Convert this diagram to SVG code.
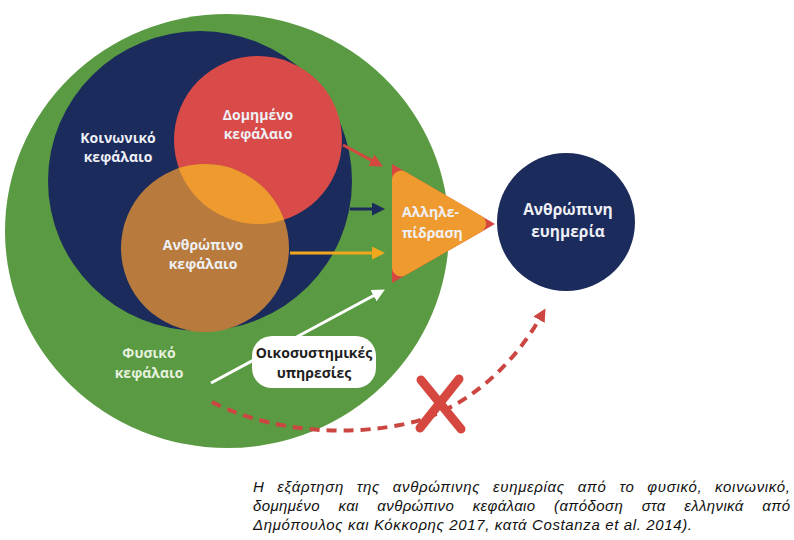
<svg xmlns="http://www.w3.org/2000/svg" width="794" height="540" viewBox="0 0 794 540">
  <style>
    .lbl { font-family: "Open Sans", "Liberation Sans", sans-serif; font-weight: bold; font-size: 14px; text-anchor: middle; }
    .light { fill: #EEF0F6; }
    .pale { fill: #E6F1DF; }
    .dark { fill: #1E1E1E; }
    .cap { font-family: "Liberation Sans", Arial, sans-serif; font-style: italic; font-size: 15px; fill: #111; }
  </style>
  <defs>
    <marker id="ah-red" markerUnits="userSpaceOnUse" markerWidth="13" markerHeight="13" refX="2" refY="6.5" orient="auto">
      <path d="M0,0 L13,6.5 L0,13 z" fill="#D5473F"/>
    </marker>
    <marker id="ah-navy" markerUnits="userSpaceOnUse" markerWidth="13" markerHeight="13" refX="2" refY="6.5" orient="auto">
      <path d="M0,0 L13,6.5 L0,13 z" fill="#1B2B5C"/>
    </marker>
    <marker id="ah-gold" markerUnits="userSpaceOnUse" markerWidth="13" markerHeight="13" refX="2" refY="6.5" orient="auto">
      <path d="M0,0 L13,6.5 L0,13 z" fill="#F2A81D"/>
    </marker>
    <marker id="ah-white" markerUnits="userSpaceOnUse" markerWidth="13" markerHeight="13" refX="2" refY="6.5" orient="auto">
      <path d="M0,0 L13,6.5 L0,13 z" fill="#FFFFFF"/>
    </marker>
    <marker id="ah-dash" markerUnits="userSpaceOnUse" markerWidth="13" markerHeight="13" refX="2" refY="6.5" orient="auto">
      <path d="M0,0 L13,6.5 L0,13 z" fill="#CB4541"/>
    </marker>
    <clipPath id="clip-human">
      <circle cx="205" cy="248" r="84"/>
    </clipPath>
  </defs>

  <g id="natural-capital">
    <ellipse cx="227" cy="231" rx="222" ry="217" fill="#5A9A42"/>
    <text class="lbl pale" x="149" y="358">Φυσικό</text>
    <text class="lbl pale" x="149" y="378">κεφάλαιο</text>
  </g>

  <g id="social-capital">
    <ellipse cx="200" cy="181" rx="152" ry="150" fill="#1B2B5C"/>
    <text class="lbl light" x="118" y="143">Κοινωνικό</text>
    <text class="lbl light" x="118" y="162">κεφάλαιο</text>
  </g>

  <g id="built-capital">
    <circle cx="258" cy="140" r="84" fill="#D94B48"/>
    <text class="lbl light" x="258" y="120">Δομημένο</text>
    <text class="lbl light" x="258" y="139">κεφάλαιο</text>
  </g>

  <g id="human-capital">
    <circle cx="205" cy="248" r="84" fill="#B87B3D"/>
    <circle cx="258" cy="140" r="84" fill="#EE9A2F" clip-path="url(#clip-human)"/>
    <text class="lbl light" x="203" y="250">Ανθρώπινο</text>
    <text class="lbl light" x="203" y="269">κεφάλαιο</text>
  </g>

  <g id="connectors" fill="none">
    <line x1="343" y1="145" x2="373.2" y2="161.3" stroke="#D5473F" stroke-width="3" marker-end="url(#ah-red)"/>
    <line x1="350" y1="209" x2="374" y2="209" stroke="#1B2B5C" stroke-width="3" marker-end="url(#ah-navy)"/>
    <line x1="290" y1="253" x2="374" y2="253" stroke="#F2A81D" stroke-width="3" marker-end="url(#ah-gold)"/>
    <line x1="211" y1="383" x2="375.2" y2="294.7" stroke="#FFFFFF" stroke-width="3" marker-end="url(#ah-white)"/>
    <path d="M212,402 C250,422 320,440 400,425 C460,414 510,370 540,318" stroke="#CB4541" stroke-width="4" stroke-dasharray="10 7" marker-end="url(#ah-dash)"/>
  </g>

  <g id="ecosystem-services">
    <rect x="252" y="336" width="124" height="52" rx="20" ry="20" fill="#FFFFFF"/>
    <text class="lbl dark" x="314" y="358">Οικοσυστημικές</text>
    <text class="lbl dark" x="314" y="378">υπηρεσίες</text>
  </g>

  <g id="interaction">
    <polygon points="392,164 392,283 495,224" fill="#D5473F"/>
    <polygon points="401,179.6 401,267.5 477,223.9" fill="#EE9A2F" stroke="#EE9A2F" stroke-width="18" stroke-linejoin="round"/>
    <text class="lbl light" x="402" y="217" style="text-anchor:start">Αλληλε-</text>
    <text class="lbl light" x="402" y="238" style="text-anchor:start">πίδραση</text>
  </g>

  <g id="wellbeing">
    <circle cx="566" cy="222" r="69" fill="#1B2B5C"/>
    <text class="lbl light" x="568" y="215" style="font-size:15.5px">Ανθρώπινη</text>
    <text class="lbl light" x="568" y="237" style="font-size:15.5px">ευημερία</text>
  </g>

  <g id="cross">
    <line x1="421" y1="380" x2="461" y2="429" stroke="#D5473F" stroke-width="9" stroke-linecap="round"/>
    <line x1="459" y1="379" x2="420" y2="428" stroke="#D5473F" stroke-width="9" stroke-linecap="round"/>
  </g>

  <g id="caption">
    <text class="cap" x="253" y="492" word-spacing="8" textLength="537" lengthAdjust="spacing">Η εξάρτηση της ανθρώπινης ευημερίας από το φυσικό, κοινωνικό,</text>
    <text class="cap" x="253" y="511" word-spacing="14" textLength="537" lengthAdjust="spacing">δομημένο και ανθρώπινο κεφάλαιο (απόδοση στα ελληνικά από</text>
    <text class="cap" x="253" y="530" textLength="439" lengthAdjust="spacing">Δημόπουλος και Κόκκορης 2017, κατά Costanza et al. 2014).</text>
  </g>
</svg>
